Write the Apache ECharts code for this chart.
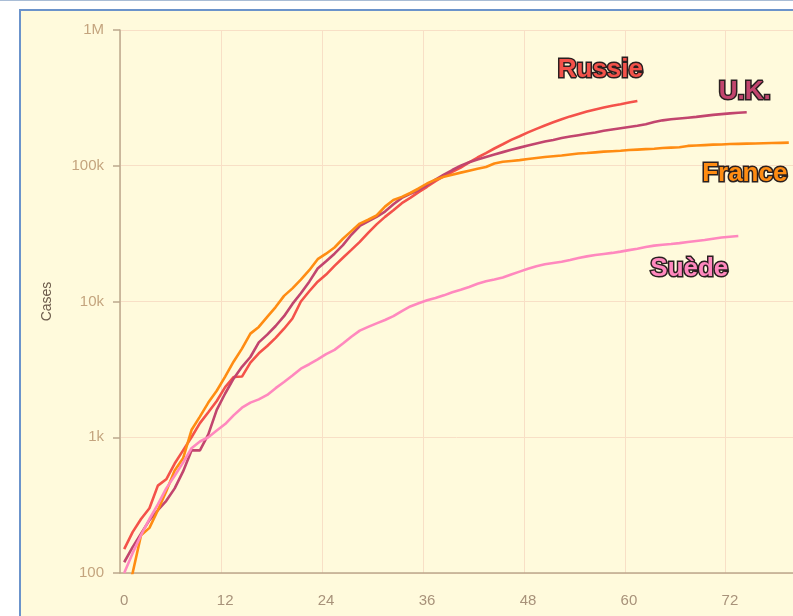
<!DOCTYPE html>
<html>
<head>
<meta charset="utf-8">
<script src="https://cdn.jsdelivr.net/npm/echarts@6/dist/echarts.min.js"></script>
<style>
html, body { margin: 0; padding: 0; background: #ffffff; overflow: hidden; }
#topline { position: absolute; left: 0; top: 0; width: 100%; height: 1px; background: #a9bdd6; }
#frame { position: absolute; left: 19px; top: 9px; width: 800px; height: 640px; border: 2px solid #6b93cb; background: #fffadc; }
#chart { position: absolute; left: 0; top: 0; width: 793px; height: 616px; }
</style>
</head>
<body>
<div id="topline"></div>
<div id="frame"></div>
<div id="chart"></div>
<script>
// ---------------- D A T A ---------------- //

const days = []
for (let i = 0; i < 80; i++) days.push(String(i))

const yTickLabels = { 100: '100', 1000: '1k', 10000: '10k', 100000: '100k', 1000000: '1M' }

const russie = [150, 200, 250, 300, 440, 490, 640, 800, 1000, 1270,
  1530, 1850, 2340, 2780, 2800, 3550, 4150, 4700, 5400, 6300,
  7500, 10000, 11900, 14000, 15800, 18300, 21000, 24000, 27500, 32000,
  37000, 42000, 47000, 53000, 58000, 64000, 70000, 77000, 84000, 90000,
  97000, 106000, 115000, 124000, 134000, 144000, 155000, 165000, 176000, 187000,
  198000, 209000, 220000, 231000, 241000, 251000, 260000, 269000, 277000, 284000,
  292000, 300000]

const uk = [120, 155, 195, 245, 290, 340, 420, 560, 800, 800,
  1050, 1590, 2100, 2700, 3300, 3900, 5000, 5700, 6600, 7800,
  9600, 11500, 14000, 17500, 19800, 22500, 26000, 31000, 36000, 39000,
  42000, 46000, 52000, 58000, 62000, 66000, 72000, 79000, 86000, 93000,
  100000, 106000, 111000, 116000, 121000, 126000, 131000, 136000, 141000, 146000,
  151000, 155000, 160000, 164000, 168000, 172000, 176000, 181000, 185000, 189000,
  193000, 197000, 202000, 210000, 216000, 220000, 223000, 226000, 229000, 233000,
  237000, 240000, 243000, 246000, 248000]

const france = [60, 100, 190, 215, 290, 400, 570, 700, 1130, 1420,
  1800, 2200, 2800, 3600, 4500, 5800, 6500, 7700, 9100, 11000,
  12500, 14500, 17000, 20500, 22500, 25000, 29000, 33000, 37500, 40000,
  43000, 50000, 56000, 59000, 63000, 68000, 74000, 79000, 83000, 86000,
  89000, 92000, 95000, 98000, 104000, 107000, 108500, 110000, 112000, 114000,
  116000, 117500, 119000, 121000, 123000, 124000, 125500, 127000, 128000, 129000,
  130500, 131500, 132500, 133500, 135000, 136000, 137000, 140000, 141000, 142000,
  143000, 143500, 144500, 145000, 145500, 146000, 146500, 147000, 147500, 148000]

const suede = [100, 140, 190, 250, 320, 420, 520, 650, 830, 930,
  1000, 1120, 1250, 1450, 1650, 1800, 1900, 2050, 2300, 2550,
  2850, 3200, 3450, 3750, 4100, 4400, 4900, 5500, 6100, 6500,
  6900, 7300, 7800, 8500, 9200, 9700, 10200, 10600, 11100, 11700,
  12200, 12800, 13500, 14100, 14500, 15000, 15800, 16600, 17400, 18200,
  18800, 19200, 19600, 20200, 20900, 21500, 22000, 22400, 22800, 23300,
  23900, 24500, 25200, 25800, 26200, 26500, 26900, 27400, 27900, 28400,
  29000, 29600, 30000, 30400]

// -------------- S E R I E S -------------- //

const makeSeries = (name, data, color, offset) => ({
  name: name,
  type: 'line',
  data: data,
  showSymbol: false,
  smooth: false,
  lineStyle: { width: 2.6, color: color },
  itemStyle: { color: color },
  markPoint: {
    symbol: 'circle',
    symbolSize: 0,
    silent: true,
    data: [{ type: 'max' }],
    label: {
      show: true,
      position: 'inside',
      offset: offset,
      formatter: name,
      fontFamily: 'Liberation Sans, Arial, sans-serif',
      fontWeight: 'bold',
      fontSize: 26,
      color: color,
      textBorderColor: '#2a2020',
      textBorderWidth: 3
    }
  }
})

const chart = echarts.init(document.getElementById('chart'))

chart.setOption({
  animation: false,
  backgroundColor: 'transparent',
  grid: { left: 120, right: -3, top: 30, bottom: 43, containLabel: false },
  xAxis: {
    type: 'category',
    data: days,
    boundaryGap: true,
    axisLine: { lineStyle: { color: '#bca88c', width: 1.5 } },
    axisTick: { interval: 11, alignWithLabel: true, length: 6, lineStyle: { color: '#bca88c', width: 1.5 } },
    axisLabel: { interval: 11, margin: 20, color: '#a8927a', fontSize: 15, fontFamily: 'Liberation Sans, Arial, sans-serif' },
    splitLine: { show: true, interval: 11, lineStyle: { color: '#f8dfc6', width: 1 } }
  },
  yAxis: {
    type: 'log',
    logBase: 10,
    min: 100,
    max: 1000000,
    name: 'Cases',
    nameLocation: 'middle',
    nameGap: 66,
    nameTextStyle: { color: '#6d5c4c', fontSize: 14, fontFamily: 'Liberation Sans, Arial, sans-serif' },
    axisLine: { show: true, lineStyle: { color: '#bca88c', width: 1.5 } },
    axisTick: { show: true, length: 7, lineStyle: { color: '#bca88c', width: 1.5 } },
    axisLabel: {
      margin: 16,
      color: '#c4a47e',
      fontSize: 15,
      fontFamily: 'Liberation Sans, Arial, sans-serif',
      formatter: v => yTickLabels[Math.round(v)] || ''
    },
    splitLine: { show: true, lineStyle: { color: '#f8dfc6', width: 1 } }
  },
  series: [
    makeSeries('Russie', russie, '#f4524a', [-37, -31]),
    makeSeries('U.K.', uk, '#c2456e', [-2, -20]),
    makeSeries('France', france, '#ff8c12', [-44, 31]),
    makeSeries('Suède', suede, '#ff88be', [-49, 33])
  ]
})
</script>
</body>
</html>
